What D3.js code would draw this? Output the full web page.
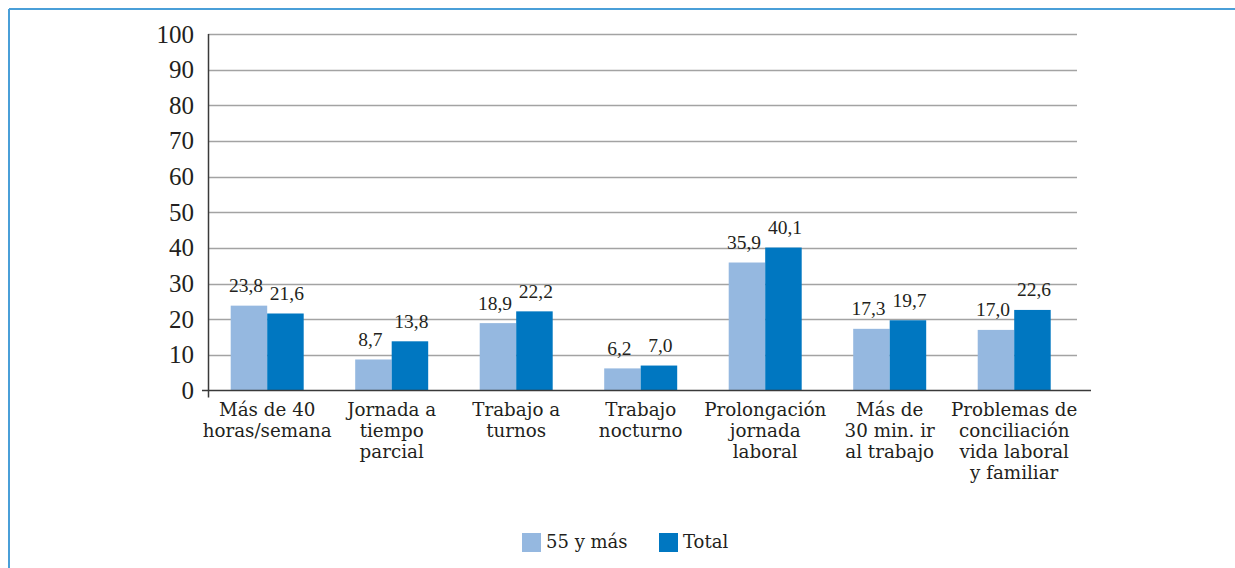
<!DOCTYPE html>
<html>
<head>
<meta charset="utf-8">
<script src="https://cdn.jsdelivr.net/npm/d3@7"></script>
<style>
  body { margin: 0; background: #fff; }
  svg { display: block; }
</style>
</head>
<body>
<svg id="chart" width="1235" height="568"></svg>
<script>
const categories = [
  ["Más de 40", "horas/semana"],
  ["Jornada a", "tiempo", "parcial"],
  ["Trabajo a", "turnos"],
  ["Trabajo", "nocturno"],
  ["Prolongación", "jornada", "laboral"],
  ["Más de", "30 min. ir", "al trabajo"],
  ["Problemas de", "conciliación", "vida laboral", "y familiar"]
];
const seriesNames = ["55 y más", "Total"];
const values55 = [23.8, 8.7, 18.9, 6.2, 35.9, 17.3, 17.0];
const valuesTotal = [21.6, 13.8, 22.2, 7.0, 40.1, 19.7, 22.6];
const yTicks = [0, 10, 20, 30, 40, 50, 60, 70, 80, 90, 100];
const colors = ["#95b8e0", "#0077c1"];
const numFont = "'Liberation Serif', serif";
const textFont = "'DejaVu Serif', serif";

const svg = d3.select("#chart");

// frame
svg.append("line").attr("x1", 9).attr("x2", 1235).attr("y1", 9).attr("y2", 9)
  .attr("stroke", "#4a9fd8").attr("stroke-width", 2);
svg.append("line").attr("x1", 9).attr("x2", 9).attr("y1", 9).attr("y2", 568)
  .attr("stroke", "#4a9fd8").attr("stroke-width", 2);

const plotLeft = 208, plotRight = 1077, plotTop = 34, plotBottom = 390.5;
const x0 = d3.scaleBand().domain(d3.range(categories.length)).range([202, 1079.4]).paddingInner(0.4137).paddingOuter(0.2305);
const x1 = d3.scaleBand().domain([0, 1]).range([0, x0.bandwidth()]);
const y = d3.scaleLinear().domain([0, 100]).range([plotBottom, plotTop]);

// gridlines
svg.append("g").selectAll("line").data(yTicks.filter(d => d > 0)).enter().append("line")
  .attr("x1", plotLeft).attr("x2", plotRight)
  .attr("y1", d => Math.round(y(d)) + 0.5).attr("y2", d => Math.round(y(d)) + 0.5)
  .attr("stroke", "#a3a3a3").attr("stroke-width", 1.3);

// y tick labels
svg.append("g").selectAll("text").data(yTicks).enter().append("text")
  .attr("x", 194).attr("y", d => y(d) + 8.5)
  .attr("text-anchor", "end").attr("font-size", 25).attr("fill", "#231f20")
  .attr("font-family", numFont)
  .text(d => d);

// bars
const data = categories.map((c, i) => ({ i, vals: [values55[i], valuesTotal[i]] }));
const groups = svg.append("g").selectAll("g").data(data).enter().append("g")
  .attr("transform", d => `translate(${x0(d.i)},0)`);
groups.selectAll("rect").data(d => d.vals.map((v, s) => ({ v, s }))).enter().append("rect")
  .attr("x", d => x1(d.s)).attr("width", x1.bandwidth())
  .attr("y", d => y(d.v)).attr("height", d => plotBottom - y(d.v))
  .attr("fill", d => colors[d.s]);
groups.selectAll("text").data(d => d.vals.map((v, s) => ({ v, s }))).enter().append("text")
  .attr("x", d => x1(d.s) + x1.bandwidth() / 2 + (d.s === 0 ? -3 : 1.5))
  .attr("y", d => y(d.v) - 13.5)
  .attr("text-anchor", "middle").attr("font-size", 19.5).attr("fill", "#231f20")
  .attr("font-family", numFont)
  .text(d => d.v.toFixed(1).replace(".", ","));

// axes
svg.append("line").attr("x1", 202).attr("x2", 1091).attr("y1", plotBottom).attr("y2", plotBottom)
  .attr("stroke", "#3a3a3a").attr("stroke-width", 1.5);
svg.append("line").attr("x1", plotLeft + 0.5).attr("x2", plotLeft + 0.5).attr("y1", plotTop).attr("y2", plotBottom + 7)
  .attr("stroke", "#3a3a3a").attr("stroke-width", 1.5);

// category labels
const cat = svg.append("g").selectAll("text").data(categories).enter().append("text")
  .attr("x", (d, i) => x0(i) + x0.bandwidth() / 2)
  .attr("y", 416)
  .attr("text-anchor", "middle").attr("font-size", 18.3).attr("fill", "#231f20")
  .attr("font-family", textFont);
cat.selectAll("tspan").data(d => d).enter().append("tspan")
  .attr("x", function () { return d3.select(this.parentNode).attr("x"); })
  .attr("dy", (d, i) => i === 0 ? 0 : 21)
  .text(d => d);

// legend
const legendX = [522, 659];
const legend = svg.append("g").selectAll("g").data(seriesNames).enter().append("g")
  .attr("transform", (d, i) => `translate(${legendX[i]},533)`);
legend.append("rect").attr("width", 19).attr("height", 19).attr("fill", (d, i) => colors[i]);
legend.append("text").attr("x", 24).attr("y", 14.5).attr("font-size", 18).attr("fill", "#231f20")
  .attr("font-family", textFont).text(d => d);
</script>
</body>
</html>
